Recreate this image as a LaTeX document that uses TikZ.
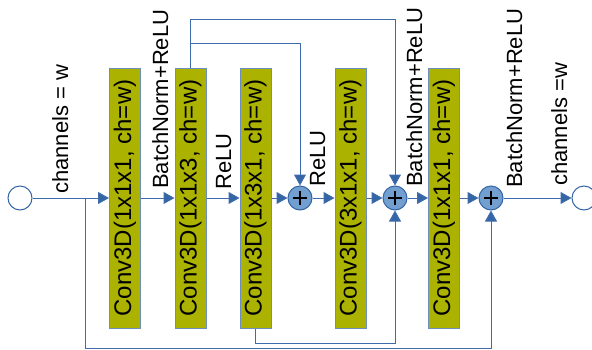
\documentclass[tikz,border=0pt]{standalone}
\usepackage{fontspec}
\usepackage{graphicx}
\setmainfont{Liberation Sans}
\usetikzlibrary{arrows.meta}
\definecolor{linecol}{RGB}{62,108,172}
\definecolor{arrowcol}{RGB}{52,101,164}
\definecolor{boxfill}{RGB}{171,179,0}
\definecolor{boxline}{RGB}{110,142,192}
\definecolor{plusfill}{RGB}{114,159,207}
\tikzset{
  convbox/.style={draw=boxline, line width=1pt, fill=boxfill, rectangle,
    minimum width=31pt, minimum height=260pt, inner sep=0pt,
    font=\fontsize{24}{28}\selectfont},
  addnode/.style={circle, draw=arrowcol, line width=1pt, fill=plusfill,
    minimum size=24pt, inner sep=0pt,
    path picture={\draw[black, line width=2pt]
      ([xshift=-7pt]path picture bounding box.center) -- ([xshift=7pt]path picture bounding box.center)
      ([yshift=-7pt]path picture bounding box.center) -- ([yshift=7pt]path picture bounding box.center);}},
  iocircle/.style={circle, draw=arrowcol, line width=1pt, fill=white,
    minimum size=24pt, inner sep=0pt},
  conn/.style={draw=linecol, line width=1pt, -{Triangle[length=11pt, width=12pt, fill=arrowcol]}},
  plainline/.style={draw=linecol, line width=1pt},
  lbl/.style={rotate=90, anchor=base west, inner sep=0pt,
    font=\fontsize{22}{26}\selectfont}
}
\begin{document}
\begin{tikzpicture}[x=1pt, y=-1pt]
\useasboundingbox (0,0) rectangle (592,349);
% nodes
\node[iocircle] (in) at (20,198) {};
\node[iocircle] (out) at (584,198) {};
\node[convbox] (b1) at (125,198) {\rotatebox{90}{Conv3D(1x1x1, ch=w)}};
\node[convbox] (b2) at (190.5,198) {\rotatebox{90}{Conv3D(1x1x3, ch=w)}};
\node[convbox] (b3) at (255.5,198) {\rotatebox{90}{Conv3D(1x3x1, ch=w)}};
\node[convbox] (b4) at (350.5,198) {\rotatebox{90}{Conv3D(3x1x1, ch=w)}};
\node[convbox] (b5) at (444,198) {\rotatebox{90}{Conv3D(1x1x1, ch=w)}};
\node[addnode] (p1) at (300,198) {};
\node[addnode] (p2) at (395,198) {};
\node[addnode] (p3) at (491,198) {};
% coordinates
\coordinate (s0) at (85,198);
\coordinate (c1) at (85,348);
\coordinate (c2) at (395,343);
\coordinate (c3) at (395,19);
\coordinate (c4) at (190.5,43);
% main chain
\draw[conn] (in) -- (b1);
\draw[conn] (b1) -- (b2);
\draw[conn] (b2) -- (b3);
\draw[conn] (b3) -- (p1);
\draw[conn] (p1) -- (b4);
\draw[conn] (b4) -- (p2);
\draw[conn] (p2) -- (b5);
\draw[conn] (b5) -- (p3);
\draw[conn] (p3) -- (out);
% skips
\draw[conn] (s0) -- (c1) -| (p3.south);
\draw[conn] (b3.south) |- (c2) -- (p2.south);
\draw[conn] (b2.north) |- (c3) -- (p2.north);
\draw[conn] (c4) -| (p1.north);
% labels
\node[lbl] (l1) at (68,194) {channels = w};
\node[lbl] (l2) at (168,189) {BatchNorm+ReLU};
\node[lbl] (l3) at (231,190) {ReLU};
\node[lbl] (l4) at (325,187) {ReLU};
\node[lbl] (l5) at (422,187) {BatchNorm+ReLU};
\node[lbl] (l6) at (522,188) {BatchNorm+ReLU};
\node[lbl] (l7) at (567,186) {channels =w};
\end{tikzpicture}
\end{document}
